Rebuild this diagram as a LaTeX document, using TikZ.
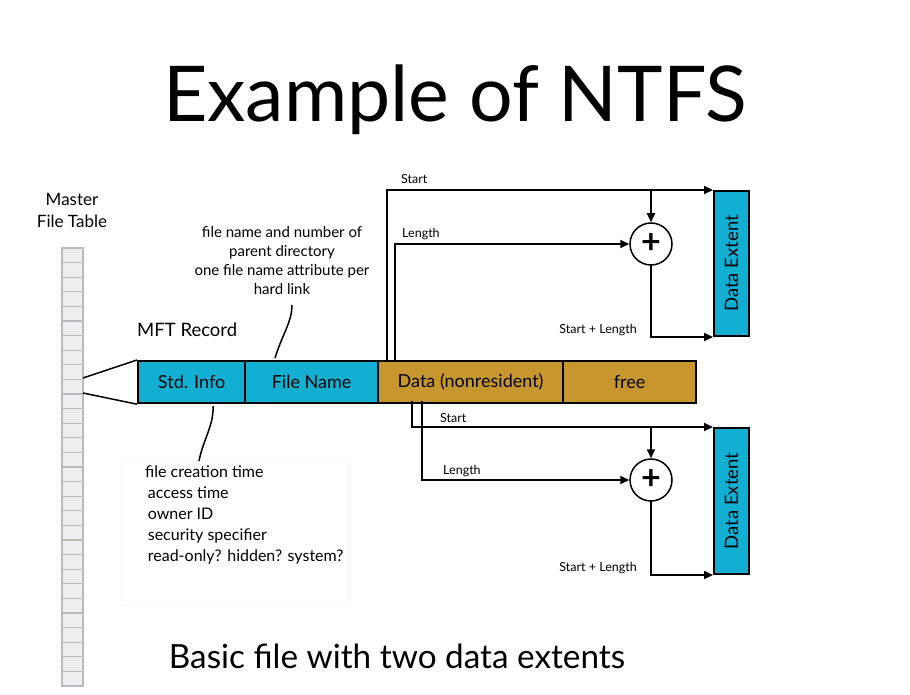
\documentclass[tikz,border=0pt]{standalone}
\usepackage{fontspec}
\setmainfont{Lato}
\usetikzlibrary{arrows.meta}
\definecolor{cyanbox}{HTML}{12AFD2}
\definecolor{goldbox}{HTML}{C8962F}
\definecolor{cellline}{HTML}{BBBBBB}
\definecolor{cellfill}{HTML}{ECEEF2}
\begin{document}
\begin{tikzpicture}[x=1pt,y=-1pt,
  recbox/.style={draw=black,line width=2.2pt,minimum height=42,anchor=north west,inner sep=0pt,font=\fontsize{18}{20}\selectfont},
  extbox/.style={draw=black,line width=2pt,fill=cyanbox,minimum width=35,anchor=north west,inner sep=0pt},
  conn/.style={line width=1.8pt,line cap=rect},
  arr/.style={conn,-{Triangle[length=9pt,width=8pt]}},
  plusnode/.style={circle,draw=black,line width=1.5pt,minimum size=42,inner sep=0pt,font=\fontsize{34}{34}\bfseries\selectfont},
  small/.style={font=\fontsize{12.5}{14}\selectfont,inner sep=0pt},
  note/.style={font=\fontsize{15}{19}\selectfont,inner sep=0pt,align=center},
  squig/.style={line width=1.5pt}
]
\useasboundingbox[fill=white] (0,0) rectangle (910,695);

% title
\node[anchor=base,inner sep=0pt,font=\fontsize{77}{84}\selectfont] (title) at (455,122) {Example of NTFS};

% master file table
\node[align=center,inner sep=0pt,font=\fontsize{17}{22}\selectfont] (mftlabel) at (72,210) {Master\\File Table};
\foreach \i in {0,...,29} {
  \draw[cellline,fill=cellfill,line width=1.2pt] (62,{248+\i*14.6}) rectangle (83,{248+(\i+1)*14.6});
}
\node[inner sep=0pt,minimum width=21,minimum height=438,anchor=north west] (mft) at (62,248) {};

% MFT record
\node[anchor=west,inner sep=0pt,font=\fontsize{18.5}{20}\selectfont] (mftrec) at (137,330) {MFT Record};
\node[recbox,fill=cyanbox,minimum width=107] (std) at (137,360) {Std. Info};
\node[recbox,fill=cyanbox,minimum width=133] (fname) at (244,360) {File Name};
\node[recbox,fill=goldbox,minimum width=185] (data) at (377,360) {Data (nonresident)};
\node[recbox,fill=goldbox,minimum width=133] (free) at (562,360) {free};

% funnel
\coordinate (f1) at (83,378);
\coordinate (f2) at (83,393);
\draw[line width=1.5pt] (f1) -- (std.north west);
\draw[line width=1.5pt] (f2) -- (std.south west);

% annotations
\node[note] (fnnote) at (282,261) {file name and number of\\parent directory\\one file name attribute per\\hard link};
\draw[squig] (fname.north west) ++(31,-2) coordinate (q1) .. controls (282,335) and (292,322) .. (292,305) coordinate (q2);

\draw[black!3,fill=white,line width=0.8pt] (122,460) rectangle (348,604);
\node[anchor=north west,inner sep=0pt,align=left,font=\fontsize{16}{21}\selectfont] (stdnote) at (145,466) {file creation time\\ \,access time\\ \,owner ID\\ \,security specifier\\ \,read-only? hidden? system?};
\draw[squig] (std.south west) ++(76,2) coordinate (q3) .. controls (214,425) and (203,440) .. (199,461) coordinate (q4);

% data extents
\node[extbox,minimum height=145] (ext1) at (713,190) {};
\node[rotate=90,font=\fontsize{18.5}{20}\selectfont,inner sep=0pt] (ext1t) at (ext1.center) {Data Extent};
\node[extbox,minimum height=146] (ext2) at (713,427) {};
\node[rotate=90,font=\fontsize{18.5}{20}\selectfont,inner sep=0pt] (ext2t) at (ext2.center) {Data Extent};

\node[plusnode] (plus1) at (651,244) {+};
\node[plusnode] (plus2) at (651,480) {+};

% top extent connectors
\coordinate (ts) at (387,360);
\coordinate (tl) at (395,360);
\coordinate (tj) at (651,190);
\draw[arr] (ts) |- (ext1.north west);
\draw[arr] (tl) |- (plus1.west);
\draw[arr] (tj) -- (plus1.north);
\draw[arr] (plus1.south) |- (ext1.south west);
\node[small,anchor=west] (l1) at (401,179) {Start};
\node[small,anchor=west] (l2) at (402,234) {Length};
\node[small,anchor=east] (l3) at (637,330) {Start + Length};

% bottom extent connectors
\coordinate (bs) at (412,402);
\coordinate (bl) at (422,402);
\coordinate (bj) at (651,427);
\draw[arr] (bs) |- (ext2.north west);
\draw[arr] (bl) |- (plus2.west);
\draw[arr] (bj) -- (plus2.north);
\draw[arr] (plus2.south) |- (ext2.south west);
\node[small,anchor=west] (l4) at (440,418) {Start};
\node[small,anchor=west] (l5) at (443,471) {Length};
\node[small,anchor=east] (l6) at (637,568) {Start + Length};

% caption
\node[anchor=base,inner sep=0pt,font=\fontsize{33.3}{36}\selectfont] (caption) at (397,668) {Basic file with two data extents};
\end{tikzpicture}
\end{document}
